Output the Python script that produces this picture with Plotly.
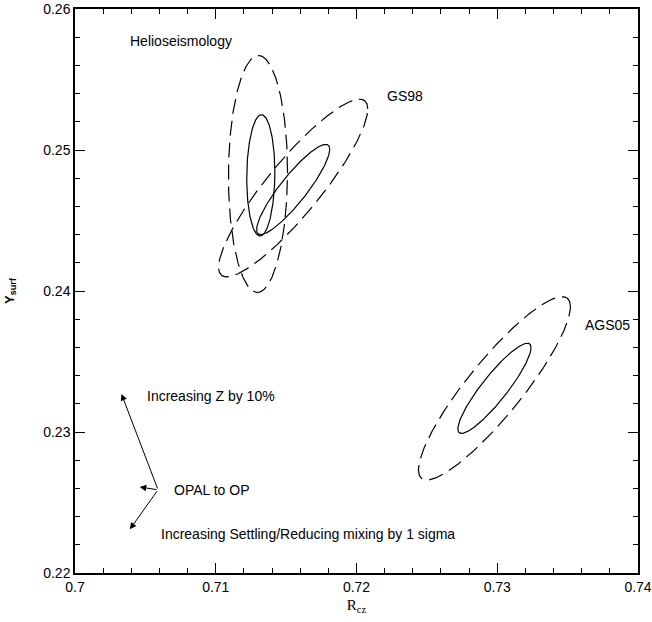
import numpy as np
import plotly.graph_objects as go

# --- data -------------------------------------------------------------
# confidence contours: centre, half extents (x, y), correlation, line style
contour_model = ["Helioseismology", "Helioseismology", "GS98", "GS98", "AGS05", "AGS05"]
contour_cx    = [0.7132, 0.7130, 0.7155, 0.7155, 0.7298, 0.7298]
contour_cy    = [0.2482, 0.2483, 0.2472, 0.2473, 0.2331, 0.2331]
contour_sx    = [0.0010, 0.0021, 0.0026, 0.0053, 0.0026, 0.0054]
contour_sy    = [0.0043, 0.0084, 0.0032, 0.0063, 0.0032, 0.0065]
contour_rho   = [0.05, 0.02, 0.89, 0.89, 0.90, 0.89]
contour_dash  = ["solid", "dash", "solid", "dash", "solid", "dash"]

# model labels
label_text = ["Helioseismology", "GS98", "AGS05"]
label_x    = [0.7038, 0.7220, 0.7361]
label_y    = [0.2577, 0.2538, 0.2376]

# sensitivity arrows (common origin)
arrow_origin = (0.7059, 0.2259)
arrow_head_x = [0.7033, 0.7046, 0.7039]
arrow_head_y = [0.2327, 0.2261, 0.2231]
arrow_text   = ["Increasing Z by 10%", "OPAL to OP",
                "Increasing Settling/Reducing mixing by 1 sigma"]
arrow_text_x = [0.7050, 0.7069, 0.7060]
arrow_text_y = [0.23255, 0.2259, 0.22277]

x_ticks = [0.70, 0.71, 0.72, 0.73, 0.74]
x_tick_labels = ["0.7", "0.71", "0.72", "0.73", "0.74"]
y_ticks = [0.22, 0.23, 0.24, 0.25, 0.26]
y_tick_labels = ["0.22", "0.23", "0.24", "0.25", "0.26"]

# --- figure -----------------------------------------------------------
fig = go.Figure()
t = np.linspace(0, 2 * np.pi, 400)
for i in range(len(contour_cx)):
    r = contour_rho[i]
    xs = contour_cx[i] + contour_sx[i] * np.cos(t)
    ys = contour_cy[i] + contour_sy[i] * (r * np.cos(t) + np.sqrt(1 - r * r) * np.sin(t))
    dash = "solid" if contour_dash[i] == "solid" else "15px,7px"
    fig.add_trace(go.Scatter(x=xs, y=ys, mode="lines",
                             line=dict(color="black", width=1.2, dash=dash),
                             name=contour_model[i], showlegend=False,
                             hoverinfo="skip"))

font_main = dict(family="Liberation Sans, Arial, sans-serif", size=14, color="black")

for txt, x, y in zip(label_text, label_x, label_y):
    fig.add_annotation(x=x, y=y, text=txt, showarrow=False, xanchor="left",
                       yanchor="middle", font=font_main)

for hx, hy in zip(arrow_head_x, arrow_head_y):
    fig.add_annotation(x=hx, y=hy, ax=arrow_origin[0], ay=arrow_origin[1],
                       xref="x", yref="y", axref="x", ayref="y", text="",
                       showarrow=True, arrowhead=2, arrowsize=1.3,
                       arrowwidth=1.0, arrowcolor="black")

for txt, x, y in zip(arrow_text, arrow_text_x, arrow_text_y):
    fig.add_annotation(x=x, y=y, text=txt, showarrow=False, xanchor="left",
                       yanchor="middle", font=font_main)

axis_common = dict(showline=True, linecolor="black", linewidth=1.5,
                   mirror="allticks", ticks="inside", ticklen=10, tickwidth=1.2,
                   tickcolor="black", showgrid=False, zeroline=False,
                   tickfont=font_main, automargin=False)

fig.update_xaxes(range=[0.70, 0.74], tickvals=x_ticks, ticktext=x_tick_labels,
                 minor=dict(ticks="inside", ticklen=5, dtick=0.002, tickcolor="black",
                            tickwidth=1.2, showgrid=False),
                 title=dict(text="R<sub>cz</sub>", standoff=6,
                            font=dict(family="Liberation Serif, Times New Roman, serif",
                                      size=15, color="black")),
                 **axis_common)
fig.update_yaxes(range=[0.22, 0.26], tickvals=y_ticks, ticktext=y_tick_labels,
                 minor=dict(ticks="inside", ticklen=5, dtick=0.002, tickcolor="black",
                            tickwidth=1.2, showgrid=False),
                 title=dict(text="<b>Y<sub>surf</sub></b>", standoff=26,
                            font=dict(family="Liberation Sans, Arial, sans-serif",
                                      size=13, color="black")),
                 **axis_common)

fig.update_layout(width=652, height=622, plot_bgcolor="white", paper_bgcolor="white",
                  margin=dict(l=75, r=14, t=9, b=49), showlegend=False)

fig.write_html("out.html", config={"displayModeBar": False},
               post_script="document.body.style.margin='0';document.body.style.overflow='hidden';")
